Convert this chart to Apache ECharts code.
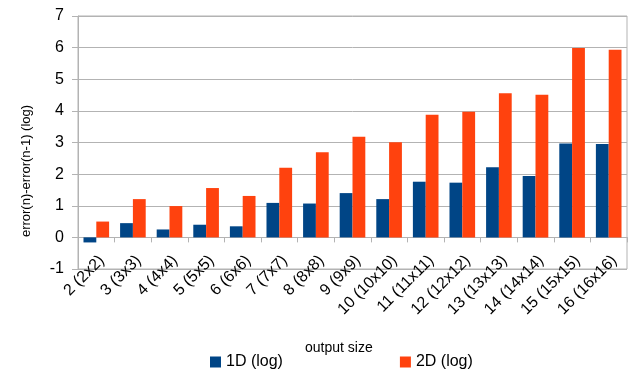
<!DOCTYPE html>
<html>
<head>
<meta charset="utf-8">
<script src="https://cdn.jsdelivr.net/npm/echarts@6/dist/echarts.min.js"></script>
<style>
  html, body { margin: 0; padding: 0; background: #fff; }
  #chart { width: 634px; height: 380px; }
</style>
</head>
<body>
<div id="chart"></div>
<script>
// 输出尺寸
const categories = [
  "2 (2x2)", "3 (3x3)", "4 (4x4)", "5 (5x5)", "6 (6x6)", "7 (7x7)", "8 (8x8)",
  "9 (9x9)", "10 (10x10)", "11 (11x11)", "12 (12x12)", "13 (13x13)",
  "14 (14x14)", "15 (15x15)", "16 (16x16)"
];
const values1D = [-0.16, 0.45, 0.25, 0.40, 0.35, 1.09, 1.07, 1.40, 1.21, 1.76, 1.73, 2.22, 1.94, 2.97, 2.95];
const values2D = [0.50, 1.21, 0.99, 1.56, 1.31, 2.20, 2.69, 3.18, 3.01, 3.88, 3.97, 4.56, 4.51, 5.99, 5.93];
const yTicks = [-1, 0, 1, 2, 3, 4, 5, 6, 7];

const font = "Liberation Sans";
const gridColor = "#b3b3b3";
const gridTop = 16;
const gridBottom = 111;
// x轴放在0的位置（离底部一格）
const unitPx = (380 - gridTop - gridBottom) / (yTicks.length - 1);

const chart = echarts.init(document.getElementById("chart"));
const option = {
  animation: false,
  textStyle: { fontFamily: font },
  grid: {
    left: 78,
    right: 7,
    top: gridTop,
    bottom: gridBottom,
    show: true,
    borderColor: gridColor,
    borderWidth: 1,
  },
  legend: {
    left: 210,
    top: 354,
    padding: 0,
    itemGap: 117,
    itemWidth: 11,
    itemHeight: 11,
    itemTextGap: 4,
    icon: "rect",
    textStyle: { fontSize: 16, color: "#000", fontFamily: font },
    data: ["1D (log)", "2D (log)"],
  },
  graphic: [
    {
      type: "text",
      left: 305,
      top: 341,
      style: { text: "output size", fontSize: 14, fill: "#000", fontFamily: font },
    },
    {
      type: "text",
      x: 26,
      y: 171,
      rotation: Math.PI / 2,
      style: {
        text: "error(n)-error(n-1) (log)",
        fontSize: 13,
        fill: "#000",
        fontFamily: font,
        align: "center",
        verticalAlign: "middle",
      },
    },
  ],
  xAxis: {
    type: "category",
    data: categories,
    offset: -unitPx,
    axisLine: { onZero: false, lineStyle: { color: gridColor } },
    axisTick: { show: true, length: 5, lineStyle: { color: gridColor } },
    axisLabel: {
      rotate: 45,
      interval: 0,
      fontSize: 16,
      color: "#000",
      margin: 15,
      verticalAlign: "top",
    },
  },
  yAxis: {
    type: "value",
    min: yTicks[0],
    max: yTicks[yTicks.length - 1],
    interval: 1,
    axisLine: { show: true, lineStyle: { color: gridColor } },
    axisTick: { show: true, length: 6, lineStyle: { color: gridColor } },
    axisLabel: { fontSize: 16, color: "#000", margin: 14 },
    splitLine: { lineStyle: { color: gridColor } },
  },
  series: [
    {
      name: "1D (log)",
      type: "bar",
      data: values1D,
      barGap: "0%",
      barCategoryGap: "30%",
      itemStyle: { color: "#004586" },
    },
    {
      name: "2D (log)",
      type: "bar",
      data: values2D,
      itemStyle: { color: "#ff420e" },
    },
  ],
};
chart.setOption(option);
</script>
</body>
</html>
